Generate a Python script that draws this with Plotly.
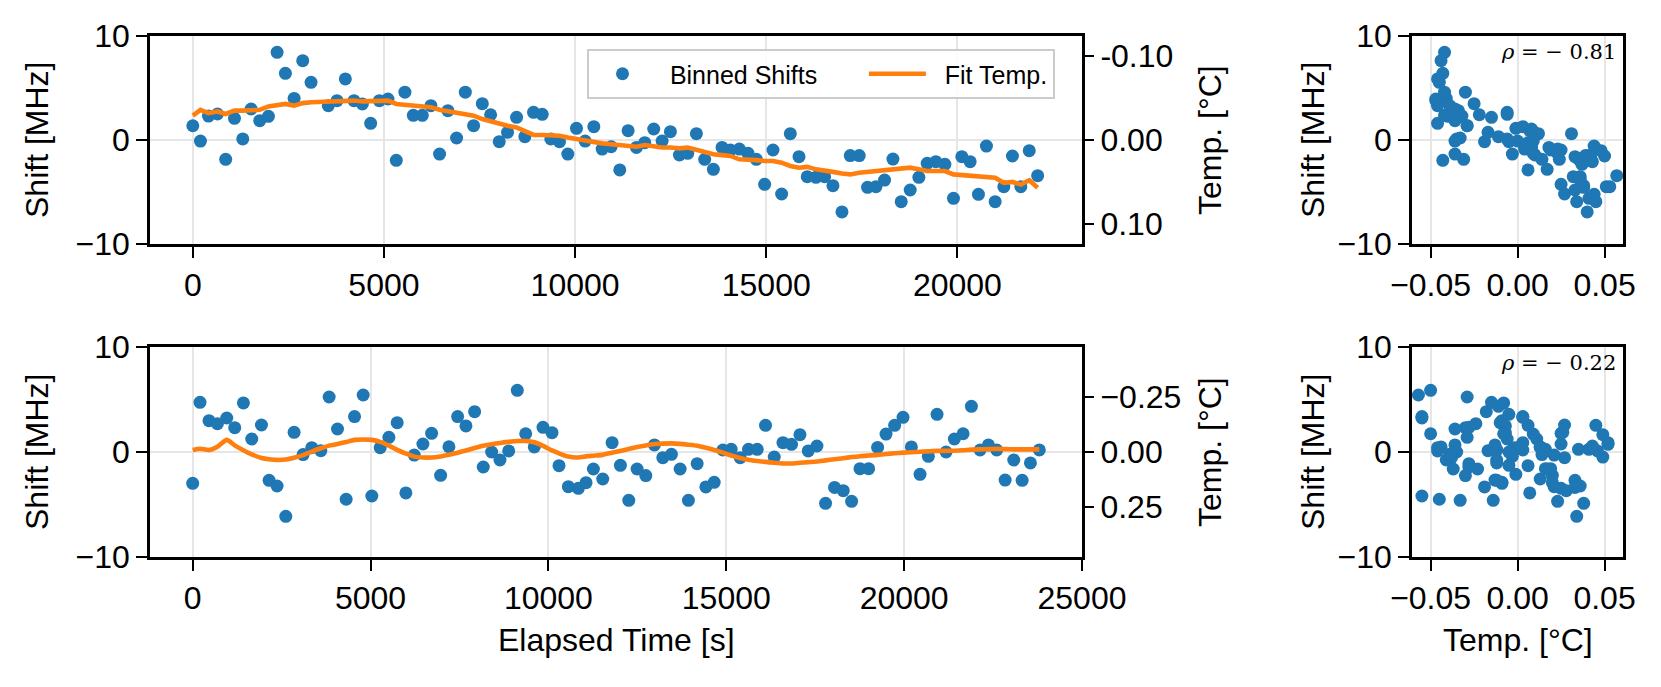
import plotly.graph_objects as go

# ---------------- data ----------------
top_time = [0, 200, 410, 645, 860, 1090, 1307, 1525, 1750, 1978,
            2205, 2422, 2650, 2875, 3093, 3545, 3772, 3990, 4216, 4435,
            4652, 4880, 5105, 5323, 5548, 5768, 6003, 6228, 6455, 6673,
            6900, 7128, 7345, 7572, 7790, 8016, 8233, 8469, 8686, 8913,
            9140, 9365, 9592, 9809, 10036, 10263, 10490, 10708, 10943, 11169,
            11387, 11605, 11822, 12057, 12276, 12493, 12729, 12946, 13173, 13390,
            13617, 13845, 14062, 14297, 14524, 14741, 14958, 15177, 15403, 15630,
            15857, 16074, 16301, 16527, 16745, 16981, 17198, 17433, 17650, 17870,
            18095, 18314, 18531, 18766, 18993, 19210, 19437, 19673, 19898, 20117,
            20334, 20551, 20760, 20988, 21215, 21440, 21660, 21880, 22100]

top_shift = [1.37, -0.10, 2.30, 2.50, -1.86, 2.08, 0.10, 2.98, 1.86, 2.28,
             8.43, 6.41, 4.00, 7.63, 5.55, 3.30, 3.78, 5.87, 3.78, 3.46,
             1.60, 3.78, 3.94, -1.95, 4.60, 2.37, 2.37, 3.30, -1.35, 2.82,
             0.19, 4.60, 1.38, 3.49, 2.43, -0.16, 0.74, 2.18, 0.32, 2.66,
             2.47, 0.10, -0.16, -1.35, 1.12, -0.10, 1.28, -0.87, -0.64, -2.88,
             0.90, -0.71, -0.26, 1.06, -0.10, 0.80, -1.44, -1.28, 0.61, -1.86,
             -2.82, -0.71, -0.96, -0.87, -1.28, -1.86, -4.26, -0.96, -5.19, 0.61,
             -1.60, -3.53, -3.59, -3.53, -4.39, -6.92, -1.50, -1.50, -4.55, -4.49,
             -3.85, -1.83, -5.93, -4.81, -3.59, -2.24, -2.08, -2.34, -5.61, -1.60,
             -2.08, -5.22, -0.58, -5.93, -4.49, -1.54, -4.49, -1.03, -3.43]

top_temp = [-0.029, -0.036, -0.032, -0.034, -0.031, -0.035, -0.035, -0.036, -0.036, -0.040,
            -0.042, -0.043, -0.041, -0.044, -0.045, -0.046, -0.046, -0.046, -0.047, -0.046,
            -0.046, -0.046, -0.047, -0.043, -0.042, -0.042, -0.041, -0.039, -0.036, -0.034,
            -0.033, -0.030, -0.029, -0.025, -0.022, -0.019, -0.017, -0.015, -0.011, -0.006,
            -0.006, -0.006, -0.005, -0.003, -0.001, 0.000, 0.003, 0.004, 0.005, 0.006,
            0.007, 0.008, 0.006, 0.008, 0.009, 0.009, 0.010, 0.009, 0.012, 0.014,
            0.017, 0.018, 0.019, 0.023, 0.023, 0.024, 0.025, 0.025, 0.027, 0.031,
            0.033, 0.032, 0.035, 0.036, 0.038, 0.040, 0.041, 0.039, 0.038, 0.037,
            0.036, 0.035, 0.034, 0.033, 0.035, 0.037, 0.037, 0.037, 0.041, 0.042,
            0.043, 0.044, 0.044, 0.045, 0.051, 0.050, 0.053, 0.048, 0.057]

bottom_time = [0, 206, 459, 695, 957, 1182, 1426, 1660, 1933, 2148,
               2372, 2617, 2851, 3104, 3348, 3602, 3836, 4071, 4314, 4550,
               4793, 5036, 5271, 5515, 5749, 5993, 6228, 6472, 6716, 6970,
               7203, 7448, 7682, 7926, 8169, 8404, 8638, 8883, 9125, 9361,
               9603, 9848, 10101, 10298, 10560, 10842, 11058, 11264, 11527, 11790,
               12024, 12259, 12493, 12738, 12980, 13216, 13458, 13703, 13936, 14181,
               14426, 14660, 14904, 15138, 15391, 15625, 15870, 16103, 16348, 16593,
               16834, 17071, 17304, 17549, 17791, 18044, 18289, 18523, 18759, 19001,
               19254, 19491, 19733, 19969, 20203, 20447, 20681, 20925, 21179, 21412,
               21657, 21891, 22135, 22369, 22603, 22839, 23081, 23317, 23550, 23800]

bottom_shift = [-2.98, 4.73, 2.98, 2.70, 3.24, 2.32, 4.67, 1.24, 2.57, -2.70,
                -3.24, -6.13, 1.87, -0.25, 0.41, 0.13, 5.24, 2.19, -4.50, 3.37,
                5.43, -4.19, 0.41, 1.40, 2.79, -3.90, -0.29, 0.76, 1.78, -2.22,
                0.50, 3.37, 2.48, 3.84, -1.43, 0.00, -0.76, 0.10, 5.87, 1.74,
                0.48, 2.35, 1.84, -1.30, -3.30, -3.46, -2.92, -1.62, -2.57, 0.89,
                -1.27, -4.60, -1.62, -2.25, 0.67, -0.54, -0.22, -1.62, -4.60, -1.11,
                -3.33, -2.89, 0.19, 0.25, -0.54, 0.25, 0.25, 2.54, -0.48, 0.89,
                0.73, 1.65, 0.10, 0.57, -4.89, -3.37, -3.68, -4.70, -1.59, -1.59,
                0.44, 1.71, 2.54, 3.30, 0.48, -2.13, -0.41, 3.59, 0.00, 1.24,
                1.74, 4.35, 0.19, 0.67, 0.19, -2.67, -0.76, -2.70, -1.04, 0.20]

bottom_temp = [-0.009, -0.015, -0.009, -0.024, -0.055, -0.030, -0.008, 0.011, 0.027, 0.033,
               0.036, 0.034, 0.026, 0.014, -0.002, -0.017, -0.029, -0.036, -0.045, -0.055,
               -0.057, -0.055, -0.046, -0.029, -0.010, 0.007, 0.021, 0.025, 0.025, 0.020,
               0.013, 0.003, -0.007, -0.018, -0.028, -0.035, -0.041, -0.046, -0.050, -0.050,
               -0.044, -0.028, -0.007, 0.006, 0.021, 0.025, 0.020, 0.017, 0.013, 0.003,
               -0.005, -0.014, -0.023, -0.030, -0.036, -0.038, -0.039, -0.037, -0.033, -0.028,
               -0.019, -0.009, 0.003, 0.016, 0.027, 0.035, 0.041, 0.045, 0.049, 0.052,
               0.052, 0.049, 0.046, 0.043, 0.038, 0.033, 0.028, 0.023, 0.019, 0.016,
               0.013, 0.009, 0.006, 0.003, 0.001, -0.001, -0.003, -0.005, -0.005, -0.006,
               -0.008, -0.011, -0.012, -0.013, -0.014, -0.013, -0.012, -0.012, -0.012, -0.012]

rho_top = "−0.81"
rho_bottom = "−0.22"

time_ticks_top = [0, 5000, 10000, 15000, 20000]
time_ticks_bottom = [0, 5000, 10000, 15000, 20000, 25000]
shift_ticks = [10, 0, -10]
shift_ticktext = ["10", "0", "−10"]
temp_ticks_top = [-0.10, 0.0, 0.10]
temp_ticktext_top = ["-0.10", "0.00", "0.10"]
temp_ticks_bottom = [-0.25, 0.0, 0.25]
temp_ticktext_bottom = ["−0.25", "0.00", "0.25"]
scatter_ticks = [-0.05, 0.0, 0.05]
scatter_ticktext = ["−0.05", "0.00", "0.05"]

# ---------------- layout geometry ----------------
BLUE = "#1f77b4"
ORANGE = "#ff7f0e"
FONT = "Liberation Sans, Arial, sans-serif"
W, H = 1661, 687
FS = 32
NB = "\u00a0"


def fx(p):
    return p / W


def fy(p):
    return 1 - p / H


L0, L1 = 150, 1082
R0, R1 = 1412, 1623
T0, T1 = 36, 244
B0, B1 = 347, 557

MS = 13

fig = go.Figure()
fig.add_trace(go.Scatter(x=top_time, y=top_shift, mode="markers",
                         name=NB * 2 + "Binned Shifts" + NB * 6,
                         marker=dict(color=BLUE, size=MS, line=dict(width=0)),
                         xaxis="x", yaxis="y"))
fig.add_trace(go.Scatter(x=top_time, y=top_temp, mode="lines",
                         name=NB * 2 + "Fit Temp.",
                         line=dict(color=ORANGE, width=4.6),
                         xaxis="x", yaxis="y2"))
fig.add_trace(go.Scatter(x=bottom_time, y=bottom_shift, mode="markers", showlegend=False,
                         marker=dict(color=BLUE, size=MS, line=dict(width=0)),
                         xaxis="x2", yaxis="y3"))
fig.add_trace(go.Scatter(x=bottom_time, y=bottom_temp, mode="lines", showlegend=False,
                         line=dict(color=ORANGE, width=4.6, shape="spline", smoothing=0.6),
                         xaxis="x2", yaxis="y4"))
fig.add_trace(go.Scatter(x=top_temp, y=top_shift, mode="markers", showlegend=False,
                         marker=dict(color=BLUE, size=MS, line=dict(width=0)),
                         xaxis="x3", yaxis="y5"))
fig.add_trace(go.Scatter(x=bottom_temp, y=bottom_shift, mode="markers", showlegend=False,
                         marker=dict(color=BLUE, size=MS, line=dict(width=0)),
                         xaxis="x4", yaxis="y6"))

tickfont = dict(family=FONT, size=FS, color="black")
base = dict(showline=True, linecolor="black", linewidth=2.6, mirror=True,
            ticks="outside", ticklen=11, tickwidth=2.4, tickcolor="black",
            showgrid=True, gridcolor="#e6e6e6", gridwidth=2.4, zeroline=False,
            tickfont=tickfont, automargin=False)
sec = dict(showline=False, showgrid=False, zeroline=False, ticks="outside", ticklen=11,
           tickwidth=2.4, tickcolor="black", tickfont=tickfont, side="right",
           automargin=False)

fig.update_layout(
    width=W, height=H,
    margin=dict(l=0, r=0, t=0, b=0, autoexpand=False),
    paper_bgcolor="white", plot_bgcolor="white",
    font=dict(family=FONT, color="black"),
    xaxis=dict(base, domain=[fx(L0), fx(L1)], anchor="y", range=[-1120, 23260],
               tickvals=time_ticks_top, ticktext=[str(v) for v in time_ticks_top]),
    yaxis=dict(base, domain=[fy(T1), fy(T0)], anchor="x", range=[-10, 10],
               tickvals=shift_ticks, ticktext=shift_ticktext),
    yaxis2=dict(sec, overlaying="y", anchor="x", range=[0.124, -0.124],
                tickvals=temp_ticks_top, ticktext=temp_ticktext_top),
    xaxis2=dict(base, domain=[fx(L0), fx(L1)], anchor="y3", range=[-1200, 25000],
                tickvals=time_ticks_bottom, ticktext=[str(v) for v in time_ticks_bottom]),
    yaxis3=dict(base, domain=[fy(B1), fy(B0)], anchor="x2", range=[-10, 10],
                tickvals=shift_ticks, ticktext=shift_ticktext),
    yaxis4=dict(sec, overlaying="y3", anchor="x2", range=[0.477, -0.477],
                tickvals=temp_ticks_bottom, ticktext=temp_ticktext_bottom),
    xaxis3=dict(base, domain=[fx(R0), fx(R1)], anchor="y5", range=[-0.0607, 0.0606],
                tickvals=scatter_ticks, ticktext=scatter_ticktext),
    yaxis5=dict(base, domain=[fy(T1), fy(T0)], anchor="x3", range=[-10, 10],
                tickvals=shift_ticks, ticktext=shift_ticktext),
    xaxis4=dict(base, domain=[fx(R0), fx(R1)], anchor="y6", range=[-0.0607, 0.0606],
                tickvals=scatter_ticks, ticktext=scatter_ticktext),
    yaxis6=dict(base, domain=[fy(B1), fy(B0)], anchor="x4", range=[-10, 10],
                tickvals=shift_ticks, ticktext=shift_ticktext),
    legend=dict(x=fx(587), y=fy(49), xanchor="left", yanchor="top",
                orientation="h", bgcolor="rgba(255,255,255,0.85)",
                bordercolor="#cccccc", borderwidth=2,
                font=dict(family=FONT, size=25, color="black"),
                itemwidth=57),
)

title_font = dict(family=FONT, size=FS, color="black")
ann = []


def add_title(text, x, y, angle=0):
    ann.append(dict(text=text, x=fx(x), y=fy(y), xref="paper", yref="paper",
                    showarrow=False, textangle=angle, font=title_font,
                    xanchor="center", yanchor="middle"))


add_title("Shift [MHz]", 37, (T0 + T1) / 2, -90)
add_title("Shift [MHz]", 37, (B0 + B1) / 2, -90)
add_title("Temp. [°C]", 1210, (T0 + T1) / 2, -90)
add_title("Temp. [°C]", 1210, (B0 + B1) / 2, -90)
add_title("Shift [MHz]", 1313, (T0 + T1) / 2, -90)
add_title("Shift [MHz]", 1313, (B0 + B1) / 2, -90)
add_title("Elapsed Time [s]", (L0 + L1) / 2, 640)
add_title("Temp. [°C]", (R0 + R1) / 2, 640)

rho_font = dict(family="DejaVu Serif, serif", size=21, color="black")
for txt, ytop in ((rho_top, T0), (rho_bottom, B0)):
    ann.append(dict(text="<i>ρ</i> = " + txt.replace("−", "− "), x=fx(1618), y=fy(ytop + 16),
                    xref="paper", yref="paper", showarrow=False, font=rho_font,
                    xanchor="right", yanchor="middle"))

fig.update_layout(annotations=ann)
fig.write_html("out.html", config={"displayModeBar": False},
               post_script="document.body.style.margin='0';document.body.style.overflow='hidden';")
